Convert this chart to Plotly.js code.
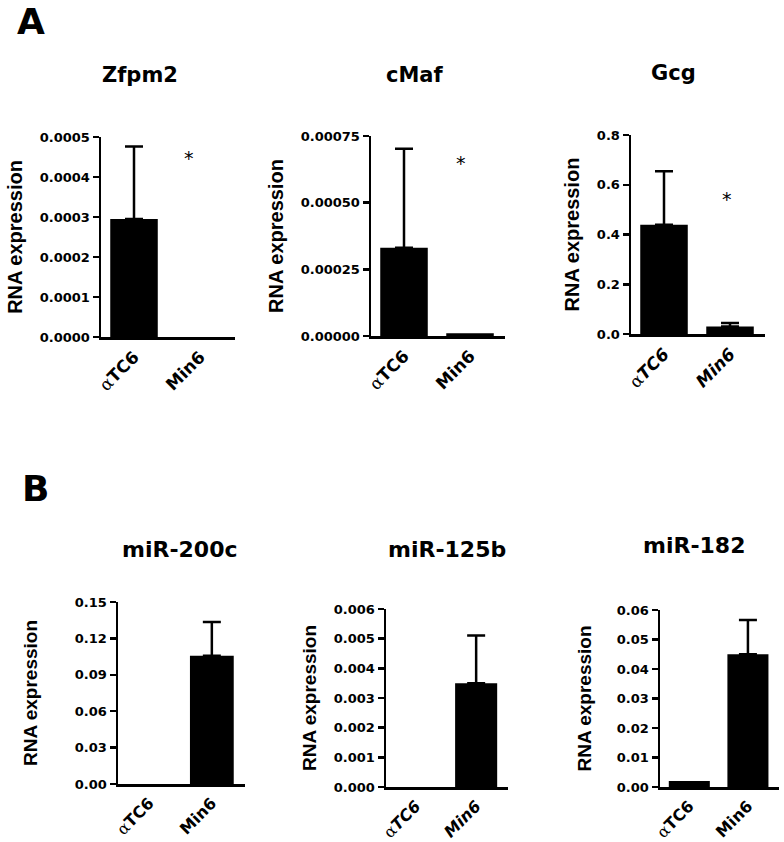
<!DOCTYPE html>
<html>
<head>
<meta charset="utf-8">
<script src="https://cdn.plot.ly/plotly-3.0.1.min.js"></script>
<style>
  html, body { margin: 0; padding: 0; background: #fff; }
  #chart { width: 784px; height: 842px; }
</style>
</head>
<body>
<div id="chart"></div>
<script>
// ---------------- data ----------------
const cellLines = ['αTC6', 'Min6'];
const panelTitles = ['Zfpm2', 'cMaf', 'Gcg', 'miR-200c', 'miR-125b', 'miR-182'];

const zfpm2Mean = [0.000295, 0];
const zfpm2Err  = [0.000181, null];
const cmafMean  = [0.000331, 0.000010];
const cmafErr   = [0.000371, null];
const gcgMean   = [0.439, 0.0305];
const gcgErr    = [0.215, 0.0135];
const mir200cMean = [0, 0.1056];
const mir200cErr  = [null, 0.028];
const mir125bMean = [0, 0.0035];
const mir125bErr  = [null, 0.00161];
const mir182Mean  = [0.002, 0.045];
const mir182Err   = [null, 0.0116];

// y-axis tick values per panel
const zfpm2Ticks   = [0, 0.0001, 0.0002, 0.0003, 0.0004, 0.0005];
const cmafTicks    = [0, 0.00025, 0.0005, 0.00075];
const gcgTicks     = [0, 0.2, 0.4, 0.6, 0.8];
const mir200cTicks = [0, 0.03, 0.06, 0.09, 0.12, 0.15];
const mir125bTicks = [0, 0.001, 0.002, 0.003, 0.004, 0.005, 0.006];
const mir182Ticks  = [0, 0.01, 0.02, 0.03, 0.04, 0.05, 0.06];

// significance star heights (data units) and category position
const starX = [0.83, 0.86, 0.95, 0.97, 0.97, 0.97];
const starY = [0.000458, 0.000664, 0.56, 0.17, 0.00648, 0.0693];

// ---------------- styling / layout ----------------
const W = 784, H = 842;
const means = [zfpm2Mean, cmafMean, gcgMean, mir200cMean, mir125bMean, mir182Mean];
const errs  = [zfpm2Err, cmafErr, gcgErr, mir200cErr, mir125bErr, mir182Err];
const ticks = [zfpm2Ticks, cmafTicks, gcgTicks, mir200cTicks, mir125bTicks, mir182Ticks];
const fmts  = ['.4f', '.5f', '.1f', '.2f', '.3f', '.2f'];
const italicLabels = [false, false, true, false, true, false];

// plot-area boxes in pixels [left, right, top, bottom]
const boxes = [
  [101, 235, 137, 337],
  [371, 505, 136, 336],
  [631, 765, 135, 334],
  [118, 245, 602, 784],
  [386, 508, 609, 787],
  [660, 779, 610, 787]
];
const titleStandoff = [12, 12, 12, 32, 12, 20];
const titlePos = [[140, 75], [415, 75], [673, 73], [180, 549], [447, 549], [694, 545]];
const titleSize = [21, 21, 21, 22, 22, 22];
const barWidths = [0.72, 0.72, 0.72, 0.70, 0.70, 0.70];
const xTickSize = [17, 17, 17, 16, 16, 16];

const BOLD = 'DejaVu Sans';
const traces = [];
const layout = {
  width: W, height: H,
  margin: {l: 0, r: 0, t: 0, b: 0},
  paper_bgcolor: '#fff', plot_bgcolor: '#fff',
  showlegend: false,
  annotations: []
};

function tickText(italic) {
  const a = '<span style="font-weight:normal;font-family:\'DejaVu Serif\'">α</span>';
  if (italic) return [a + '<i>TC6</i>', '<i>Min6</i>'];
  return [a + 'TC6', 'Min6'];
}

for (let i = 0; i < 6; i++) {
  const n = i === 0 ? '' : String(i + 1);
  const [l, r, t, b] = boxes[i];
  const top = ticks[i][ticks[i].length - 1];
  traces.push({
    type: 'bar',
    x: [0, 1],
    y: means[i],
    width: barWidths[i],
    xaxis: 'x' + n, yaxis: 'y' + n,
    marker: {color: '#000', line: {width: 0}},
    error_y: {
      type: 'data', symmetric: false,
      array: errs[i].map(function (v) { return v === null ? NaN : v; }),
      arrayminus: errs[i].map(function (v) { return v === null ? NaN : 0; }),
      color: '#000', thickness: 2.5, width: 9
    },
    cliponaxis: false,
    hoverinfo: 'skip'
  });
  layout['xaxis' + n] = {
    domain: [l / W, r / W],
    anchor: 'y' + n,
    range: [-0.5, 1.53],
    tickmode: 'array', tickvals: [0, 1], ticktext: tickText(italicLabels[i]),
    tickangle: -45,
    ticks: '',
    ticklabelstandoff: 1,
    tickfont: {family: BOLD, size: xTickSize[i], color: '#000', weight: 'bold'},
    showline: true, linecolor: '#000', linewidth: 2.5,
    showgrid: false, zeroline: false, fixedrange: true
  };
  layout['yaxis' + n] = {
    domain: [1 - b / H, 1 - t / H],
    anchor: 'x' + n,
    range: [0, top],
    tickmode: 'array', tickvals: ticks[i], tickformat: fmts[i],
    ticks: 'outside', ticklen: 6, tickwidth: 2.5, tickcolor: '#000',
    tickfont: {family: BOLD, size: 13, color: '#000', weight: 'bold'},
    showline: true, linecolor: '#000', linewidth: 2.5,
    showgrid: false, zeroline: false, fixedrange: true,
    title: {
      text: 'RNA expression', standoff: titleStandoff[i],
      font: {family: 'Liberation Sans', size: i < 3 ? 20 : 19, color: '#000', weight: 'bold'}
    }
  };
  layout.annotations.push({
    text: panelTitles[i], xref: 'paper', yref: 'paper',
    x: titlePos[i][0] / W, y: 1 - titlePos[i][1] / H,
    xanchor: 'center', yanchor: 'middle', showarrow: false,
    font: {family: BOLD, size: titleSize[i], color: '#000', weight: 'bold'}
  });
  layout.annotations.push({
    text: '*', xref: 'x' + n, yref: 'y' + n,
    x: starX[i], y: starY[i],
    xanchor: 'center', yanchor: 'middle', showarrow: false, yshift: -4,
    font: {family: 'DejaVu Sans', size: 19, color: '#000'}
  });
}

// panel letters
[['A', 31, 22], ['B', 35, 488]].forEach(function (p) {
  layout.annotations.push({
    text: p[0], xref: 'paper', yref: 'paper',
    x: p[1] / W, y: 1 - p[2] / H,
    xanchor: 'center', yanchor: 'middle', showarrow: false,
    font: {family: BOLD, size: 36, color: '#000', weight: 'bold'}
  });
});

Plotly.newPlot('chart', traces, layout, {staticPlot: true, displayModeBar: false});
</script>
</body>
</html>
